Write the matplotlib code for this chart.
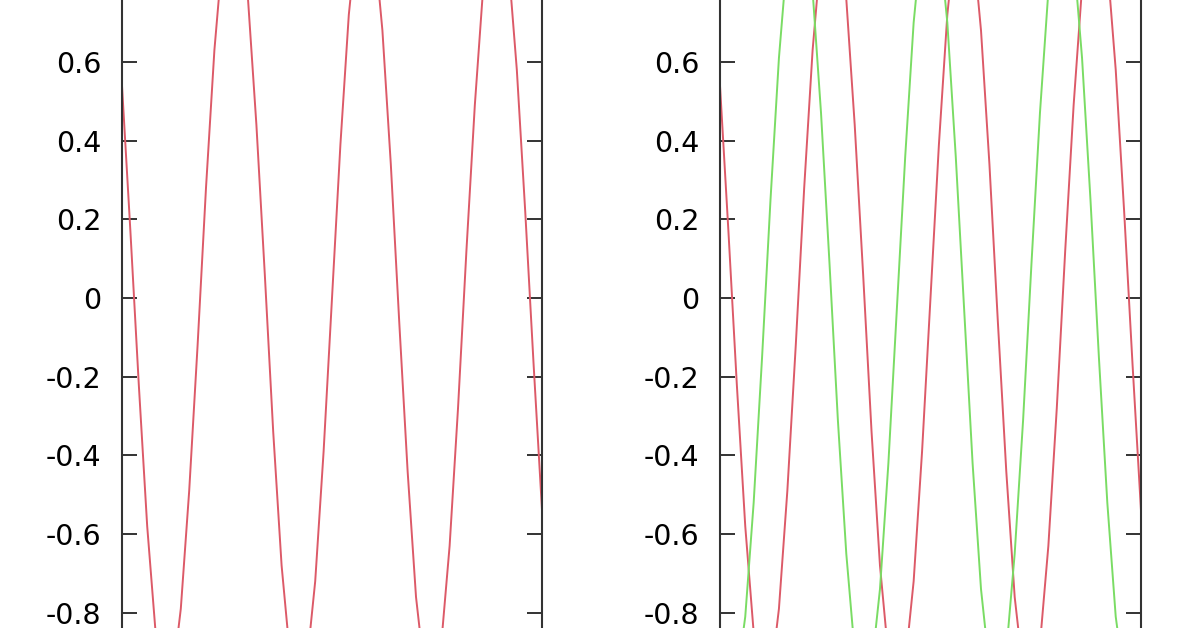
import matplotlib
matplotlib.use('Agg')
import matplotlib.pyplot as plt

plt.rcParams['font.family'] = 'DejaVu Sans'
plt.rcParams['axes.unicode_minus'] = False

# sample positions and values
x_vals = [-10.0, -9.6, -9.2, -8.8, -8.4, -8.0, -7.6, -7.2, -6.8, -6.4, -6.0,
          -5.6, -5.2, -4.8, -4.4, -4.0, -3.6, -3.2, -2.8, -2.4, -2.0,
          -1.6, -1.2, -0.8, -0.4, 0.0, 0.4, 0.8, 1.2, 1.6, 2.0,
          2.4, 2.8, 3.2, 3.6, 4.0, 4.4, 4.8, 5.2, 5.6, 6.0,
          6.4, 6.8, 7.2, 7.6, 8.0, 8.4, 8.8, 9.2, 9.6, 10.0]

red_vals = [0.54, 0.17, -0.22, -0.58, -0.85, -0.99, -0.97, -0.79, -0.49, -0.12, 0.28,
            0.63, 0.88, 1.00, 0.95, 0.76, 0.44, 0.06, -0.34, -0.68, -0.91,
            -1.00, -0.93, -0.72, -0.39, 0.00, 0.39, 0.72, 0.93, 1.00, 0.91,
            0.68, 0.34, -0.06, -0.44, -0.76, -0.95, -1.00, -0.88, -0.63, -0.28,
            0.12, 0.49, 0.79, 0.97, 0.99, 0.85, 0.58, 0.22, -0.17, -0.54]

green_vals = [-0.84, -0.98, -0.97, -0.81, -0.52, -0.15, 0.25, 0.61, 0.87, 0.99, 0.96,
              0.78, 0.47, 0.09, -0.31, -0.65, -0.90, -1.00, -0.94, -0.74, -0.42,
              -0.03, 0.36, 0.70, 0.92, 1.00, 0.92, 0.70, 0.36, -0.03, -0.42,
              -0.74, -0.94, -1.00, -0.90, -0.65, -0.31, 0.09, 0.47, 0.78, 0.96,
              0.99, 0.87, 0.61, 0.25, -0.15, -0.52, -0.81, -0.97, -0.98, -0.84]

y_ticks = [-1.0, -0.8, -0.6, -0.4, -0.2, 0.0, 0.2, 0.4, 0.6, 0.8, 1.0]
y_labels = ['', '-0.8', '-0.6', '-0.4', '-0.2', '0', '0.2', '0.4', '0.6', '0.8', '']

red = '#dc5a68'
green = '#7adc64'

fig = plt.figure(figsize=(11.96, 6.28), dpi=100)
# the plot is cropped: the axes run past the top and bottom of the picture
ax1 = fig.add_axes([0.102, -0.101, 0.3512, 1.253])
ax2 = fig.add_axes([0.602, -0.101, 0.352, 1.253])

ax1.plot(x_vals, red_vals, color=red, lw=1.4)
ax2.plot(x_vals, red_vals, color=red, lw=1.4)
ax2.plot(x_vals, green_vals, color=green, lw=1.4)

for ax in (ax1, ax2):
    ax.set_xlim(-10, 10)
    ax.set_ylim(-1, 1)
    ax.set_yticks(y_ticks)
    ax.set_yticklabels(y_labels)
    ax.tick_params(axis='y', direction='in', length=11, width=1.4, color='#333333',
                   right=True, labelsize=20.5, pad=15)
    ax.set_xticks([])
    for s in ax.spines.values():
        s.set_color('#333333')
        s.set_linewidth(1.5)

fig.savefig('out.png', dpi=100)
